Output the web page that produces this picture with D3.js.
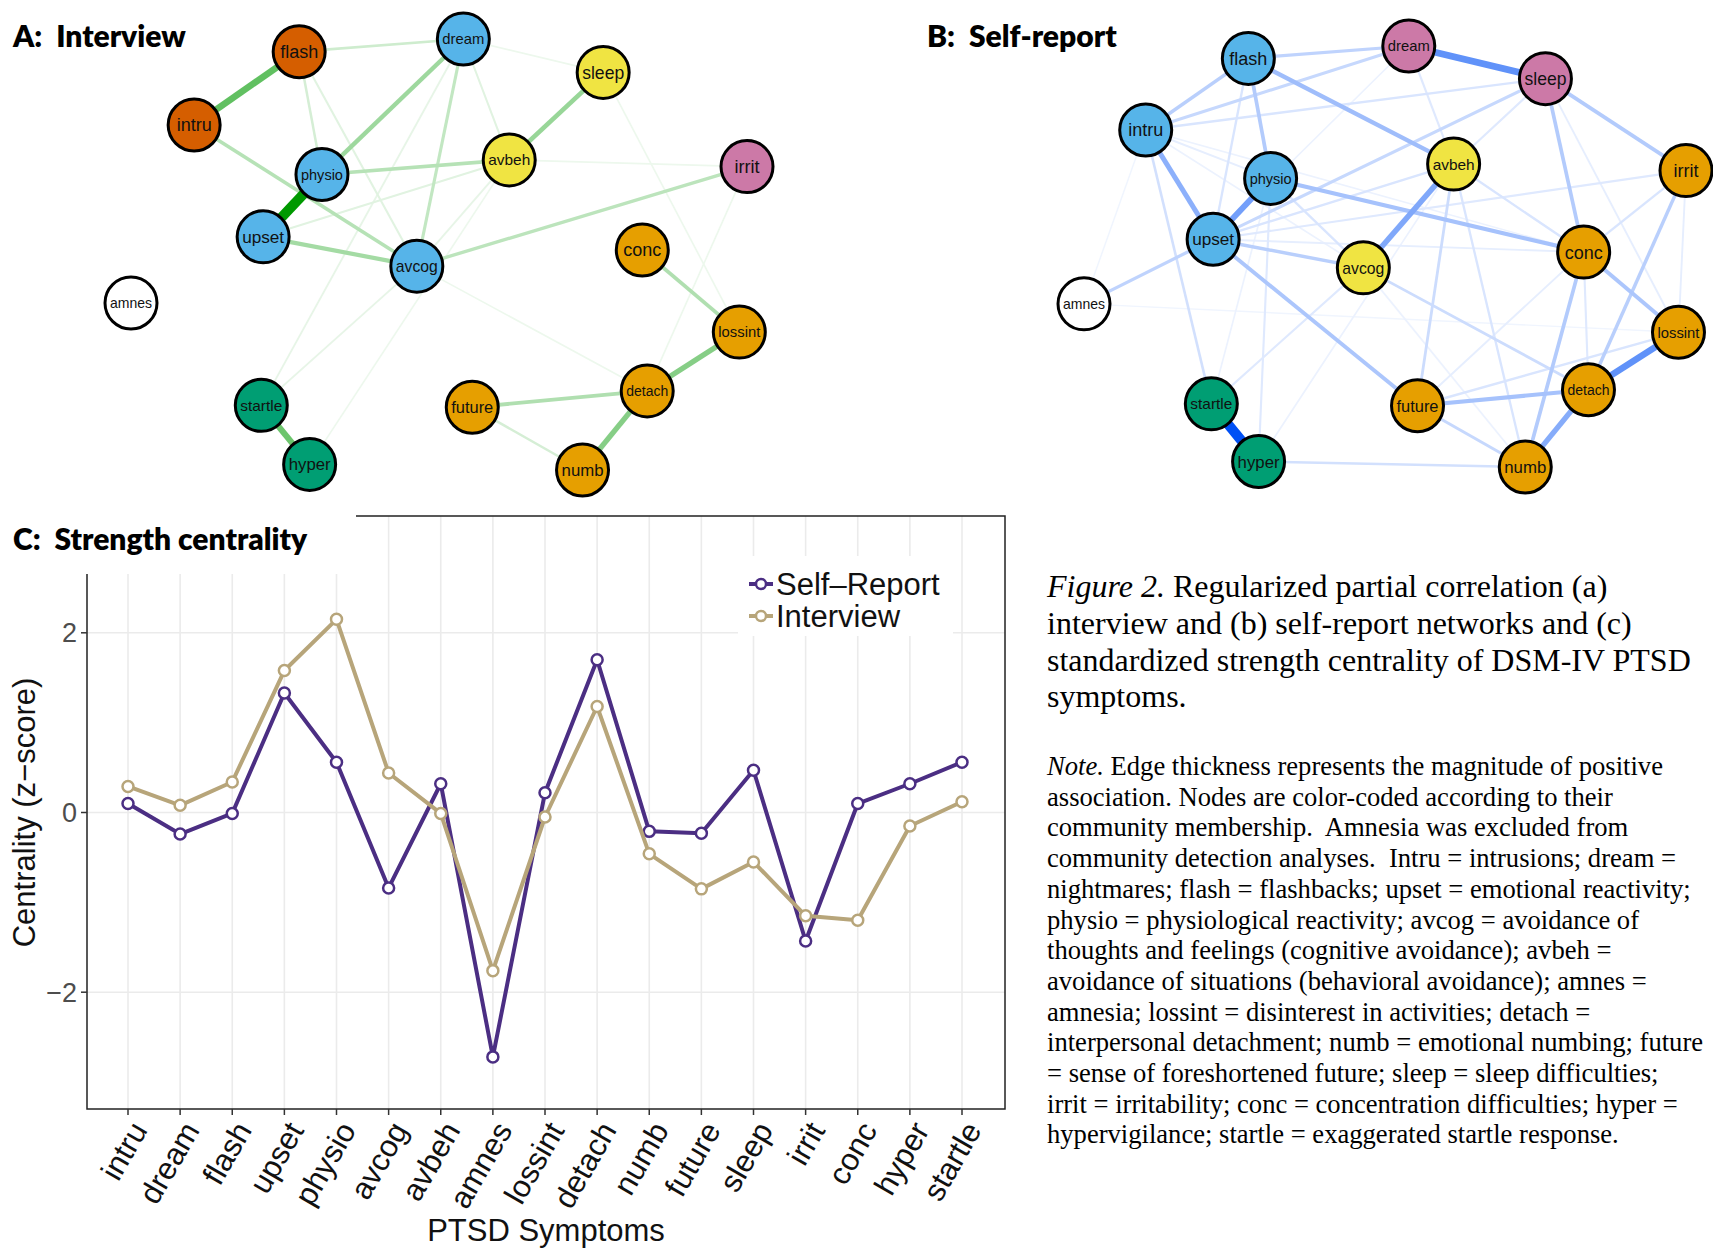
<!DOCTYPE html>
<html>
<head>
<meta charset="utf-8">
<script src="https://cdn.jsdelivr.net/npm/d3@7"></script>
<style>
  body { margin: 0; background: #fff; }
  svg { display: block; }
</style>
</head>
<body>
<svg id="fig" width="1713" height="1250"></svg>
<script>
// ---- data ----
const symptoms = ["intru", "dream", "flash", "upset", "physio", "avcog", "avbeh", "amnes", "lossint",
                  "detach", "numb", "future", "sleep", "irrit", "conc", "hyper", "startle"];

// strength centrality (z-score)
const selfReport = [0.10, -0.24, -0.01, 1.33, 0.56, -0.84, 0.32, -2.72, 0.22,
                    1.70, -0.21, -0.23, 0.47, -1.43, 0.10, 0.32, 0.56];
const interview  = [0.29, 0.08, 0.34, 1.58, 2.15, 0.44, -0.01, -1.76, -0.05,
                    1.18, -0.46, -0.85, -0.55, -1.15, -1.20, -0.15, 0.12];
const yTicks = [-2, 0, 2];

// shared (averaged) network layout, same order as symptoms
const layoutX = [-0.795, 0.079, -0.454, -0.571, -0.380, -0.072, 0.228, -1.000, 0.975,
                 0.676, 0.466, 0.108, 0.533, 1.000, 0.660, -0.420, -0.577];
const layoutY = [0.601, 1.000, 0.941, 0.082, 0.371, -0.054, 0.439, -0.225, -0.360,
                 -0.633, -1.000, -0.709, 0.845, 0.408, 0.021, -0.974, -0.700];

// community membership (0 = excluded)
const commInterview = [1, 2, 1, 2, 2, 2, 3, 0, 5, 5, 5, 5, 3, 4, 5, 6, 6];
const commSelf      = [2, 4, 2, 2, 2, 3, 3, 0, 5, 5, 5, 5, 4, 5, 5, 6, 6];

// estimated partial correlations (edges)
const edgesInterview = [
  ["physio", "upset", 0.42], ["intru", "flash", 0.26], ["startle", "hyper", 0.24],
  ["detach", "lossint", 0.20], ["detach", "numb", 0.20], ["sleep", "avbeh", 0.17],
  ["dream", "physio", 0.16], ["upset", "avcog", 0.15], ["conc", "lossint", 0.13],
  ["future", "detach", 0.13], ["intru", "avcog", 0.12], ["physio", "avbeh", 0.12],
  ["avcog", "irrit", 0.11], ["dream", "avcog", 0.10], ["flash", "dream", 0.08],
  ["flash", "physio", 0.07], ["future", "numb", 0.07], ["flash", "avcog", 0.05],
  ["dream", "avbeh", 0.05], ["upset", "avbeh", 0.05], ["avbeh", "avcog", 0.04],
  ["dream", "startle", 0.04], ["avcog", "startle", 0.04], ["hyper", "avbeh", 0.03],
  ["avcog", "detach", 0.03], ["sleep", "lossint", 0.03], ["irrit", "detach", 0.03],
  ["dream", "sleep", 0.03], ["avbeh", "irrit", 0.03]
];
const edgesSelf = [
  ["startle", "hyper", 0.40], ["dream", "sleep", 0.25], ["lossint", "detach", 0.25],
  ["physio", "upset", 0.22], ["avbeh", "avcog", 0.20], ["detach", "numb", 0.19],
  ["intru", "upset", 0.18], ["flash", "avbeh", 0.15], ["physio", "conc", 0.14],
  ["future", "detach", 0.14], ["upset", "future", 0.13], ["conc", "lossint", 0.13],
  ["conc", "numb", 0.12], ["sleep", "conc", 0.12], ["sleep", "irrit", 0.12],
  ["flash", "physio", 0.12], ["flash", "intru", 0.11], ["irrit", "detach", 0.11],
  ["upset", "avcog", 0.11], ["upset", "amnes", 0.10], ["flash", "dream", 0.10],
  ["intru", "dream", 0.09], ["upset", "sleep", 0.09], ["future", "numb", 0.09],
  ["avcog", "detach", 0.08], ["avbeh", "future", 0.08], ["intru", "startle", 0.07],
  ["hyper", "numb", 0.07], ["avbeh", "conc", 0.06], ["irrit", "conc", 0.06],
  ["avbeh", "numb", 0.06], ["lossint", "future", 0.06], ["intru", "sleep", 0.06],
  ["flash", "upset", 0.06], ["upset", "avbeh", 0.06], ["physio", "avcog", 0.06],
  ["upset", "irrit", 0.05], ["hyper", "physio", 0.05], ["startle", "avcog", 0.05],
  ["conc", "detach", 0.05], ["dream", "avbeh", 0.05], ["sleep", "avbeh", 0.05],
  ["irrit", "lossint", 0.04], ["sleep", "lossint", 0.04], ["conc", "future", 0.04],
  ["intru", "physio", 0.04], ["upset", "conc", 0.04], ["intru", "avcog", 0.03],
  ["intru", "conc", 0.03], ["dream", "upset", 0.03], ["startle", "physio", 0.03],
  ["hyper", "avbeh", 0.03], ["avcog", "numb", 0.03], ["amnes", "lossint", 0.02],
  ["amnes", "intru", 0.02]
];

const svg = d3.select("#fig");

const commColor = d3.scaleOrdinal()
  .domain([0, 1, 2, 3, 4, 5, 6])
  .range(["#FFFFFF", "#D55E00", "#56B4E9", "#F0E442", "#CC79A7", "#E69F00", "#009E73"]);

// ---- network panels ----
function network(edges, comm, xRange, yRange, posCol) {
  const x = d3.scaleLinear().domain([-1, 1]).range(xRange);
  const y = d3.scaleLinear().domain([1, -1]).range(yRange);
  const nodes = symptoms.map((s, i) => ({ name: s, x: x(layoutX[i]), y: y(layoutY[i]), c: comm[i] }));
  const byName = new Map(nodes.map(n => [n.name, n]));
  const maxW = d3.max(edges, e => e[2]);
  const t = d3.scaleLinear().domain([0, maxW]).range([0, 1]);
  const col = d3.interpolateRgb("#ffffff", posCol);

  const g = svg.append("g");
  g.selectAll("line.edge")
    .data(edges.slice().sort((a, b) => a[2] - b[2]))
    .join("line")
    .attr("class", "edge")
    .attr("x1", d => byName.get(d[0]).x)
    .attr("y1", d => byName.get(d[0]).y)
    .attr("x2", d => byName.get(d[1]).x)
    .attr("y2", d => byName.get(d[1]).y)
    .attr("stroke", d => col(Math.max(0.06, t(d[2]))))
    .attr("stroke-width", d => 1 + 9 * t(d[2]));

  const node = g.selectAll("g.node")
    .data(nodes)
    .join("g")
    .attr("class", "node")
    .attr("transform", d => `translate(${d.x},${d.y})`);

  node.append("circle")
    .attr("r", 26)
    .attr("fill", d => commColor(d.c))
    .attr("stroke", "#000")
    .attr("stroke-width", 3);

  // labels shrink to fit the node, as qgraph does
  node.append("text")
    .attr("text-anchor", "middle")
    .attr("dy", "0.36em")
    .attr("font-family", "Liberation Sans, Arial, sans-serif")
    .attr("font-size", 18)
    .attr("fill", "#111")
    .text(d => d.name)
    .each(function () {
      const len = this.getComputedTextLength();
      if (len > 42) d3.select(this).attr("font-size", 18 * 42 / len);
    });
}

network(edgesInterview, commInterview, [131, 747], [39, 470], "#009900");
network(edgesSelf, commSelf, [1084, 1686], [46, 467], "#0050F5");

// ---- panel C: strength centrality ----
const pLeft = 87, pRight = 1005, pTop = 516, pBottom = 1109;
const x = d3.scalePoint().domain(symptoms).range([128, 962]);
const y = d3.scaleLinear().domain([-3.3, 3.3]).range([pBottom, pTop]);

const pc = svg.append("g");

pc.selectAll("line.vgrid")
  .data(symptoms)
  .join("line")
  .attr("x1", d => x(d)).attr("x2", d => x(d))
  .attr("y1", pTop).attr("y2", pBottom)
  .attr("stroke", "#EBEBEB").attr("stroke-width", 1.6);

pc.selectAll("line.hgrid")
  .data(yTicks)
  .join("line")
  .attr("x1", pLeft).attr("x2", pRight)
  .attr("y1", d => y(d)).attr("y2", d => y(d))
  .attr("stroke", "#EBEBEB").attr("stroke-width", 1.6);

pc.append("rect")
  .attr("x", pLeft).attr("y", pTop)
  .attr("width", pRight - pLeft).attr("height", pBottom - pTop)
  .attr("fill", "none").attr("stroke", "#222").attr("stroke-width", 1.5);

// y axis
const yAxis = pc.append("g");
yAxis.selectAll("line")
  .data(yTicks).join("line")
  .attr("x1", pLeft - 6).attr("x2", pLeft)
  .attr("y1", d => y(d)).attr("y2", d => y(d))
  .attr("stroke", "#333").attr("stroke-width", 1.5);
yAxis.selectAll("text")
  .data(yTicks).join("text")
  .attr("x", pLeft - 10).attr("y", d => y(d))
  .attr("dy", "0.35em")
  .attr("text-anchor", "end")
  .attr("font-family", "Liberation Sans, Arial, sans-serif")
  .attr("font-size", 27)
  .attr("fill", "#4D4D4D")
  .text(d => d < 0 ? "\u2212" + Math.abs(d) : d);

// x axis
const xAxis = pc.append("g");
xAxis.selectAll("line")
  .data(symptoms).join("line")
  .attr("x1", d => x(d)).attr("x2", d => x(d))
  .attr("y1", pBottom).attr("y2", pBottom + 6)
  .attr("stroke", "#333").attr("stroke-width", 1.5);
xAxis.selectAll("text")
  .data(symptoms).join("text")
  .attr("transform", d => `translate(${x(d) + 1},${pBottom + 10}) rotate(-60)`)
  .attr("dy", "0.72em")
  .attr("text-anchor", "end")
  .attr("font-family", "Liberation Sans, Arial, sans-serif")
  .attr("font-size", 31)
  .attr("fill", "#111")
  .text(d => d);

// axis titles
pc.append("text")
  .attr("x", (pLeft + pRight) / 2).attr("y", 1241)
  .attr("text-anchor", "middle")
  .attr("font-family", "Liberation Sans, Arial, sans-serif")
  .attr("font-size", 31).attr("fill", "#111")
  .text("PTSD Symptoms");
pc.append("text")
  .attr("transform", `translate(35,${(pTop + pBottom) / 2}) rotate(-90)`)
  .attr("text-anchor", "middle")
  .attr("font-family", "Liberation Sans, Arial, sans-serif")
  .attr("font-size", 31).attr("fill", "#111")
  .text("Centrality (z\u2212score)");

// series
const series = [
  { name: "Self\u2013Report", values: selfReport, color: "#4B2E83" },
  { name: "Interview", values: interview, color: "#B7A57A" }
];
const line = d3.line().x(d => x(d.s)).y(d => y(d.v));
series.forEach(sr => {
  const pts = symptoms.map((s, i) => ({ s: s, v: sr.values[i] }));
  pc.append("path")
    .datum(pts)
    .attr("d", line)
    .attr("fill", "none")
    .attr("stroke", sr.color)
    .attr("stroke-width", 4)
    .attr("stroke-linejoin", "round");
  pc.selectAll(null)
    .data(pts).join("circle")
    .attr("cx", d => x(d.s)).attr("cy", d => y(d.v))
    .attr("r", 5.5)
    .attr("fill", "#fff")
    .attr("stroke", sr.color)
    .attr("stroke-width", 2.5);
});

// legend
const lg = pc.append("g");
lg.append("rect")
  .attr("x", 738).attr("y", 556).attr("width", 215).attr("height", 80)
  .attr("fill", "#fff");
const li = lg.selectAll("g.item")
  .data(series).join("g")
  .attr("transform", (d, i) => `translate(749,${584 + i * 32})`);
li.append("line")
  .attr("x1", 0).attr("x2", 24)
  .attr("stroke", d => d.color).attr("stroke-width", 4);
li.append("circle")
  .attr("cx", 12).attr("r", 5)
  .attr("fill", "#fff").attr("stroke", d => d.color).attr("stroke-width", 2.5);
li.append("text")
  .attr("x", 27).attr("dy", "0.36em")
  .attr("font-family", "Liberation Sans, Arial, sans-serif")
  .attr("font-size", 31).attr("fill", "#111")
  .text(d => d.name);

// white box behind the C title hides the top-left of the panel
svg.append("rect")
  .attr("x", 0).attr("y", 500).attr("width", 356).attr("height", 74)
  .attr("fill", "#fff");

// ---- panel titles ----
const titles = [
  { t: "A:  Interview", x: 13, y: 47 },
  { t: "B:  Self-report", x: 927, y: 47 },
  { t: "C:  Strength centrality", x: 13, y: 550 }
];
svg.selectAll("text.ptitle")
  .data(titles).join("text")
  .attr("class", "ptitle")
  .attr("x", d => d.x).attr("y", d => d.y)
  .attr("font-family", "Lato, Open Sans, sans-serif")
  .attr("font-weight", 800)
  .attr("font-size", 30)
  .attr("fill", "#000")
  .style("white-space", "pre")
  .text(d => d.t);

// ---- caption ----
const captionLines = [
  ["Figure 2.", " Regularized partial correlation (a)"],
  ["", "interview and (b) self-report networks and (c)"],
  ["", "standardized strength centrality of DSM-IV PTSD"],
  ["", "symptoms."]
];
const noteLines = [
  ["Note.", " Edge thickness represents the magnitude of positive"],
  ["", "association. Nodes are color-coded according to their"],
  ["", "community membership.\u00a0 Amnesia was excluded from"],
  ["", "community detection analyses.\u00a0 Intru = intrusions; dream ="],
  ["", "nightmares; flash = flashbacks; upset = emotional reactivity;"],
  ["", "physio = physiological reactivity; avcog = avoidance of"],
  ["", "thoughts and feelings (cognitive avoidance); avbeh ="],
  ["", "avoidance of situations (behavioral avoidance); amnes ="],
  ["", "amnesia; lossint = disinterest in activities; detach ="],
  ["", "interpersonal detachment; numb = emotional numbing; future"],
  ["", "= sense of foreshortened future; sleep = sleep difficulties;"],
  ["", "irrit = irritability; conc = concentration difficulties; hyper ="],
  ["", "hypervigilance; startle = exaggerated startle response."]
];

function textBlock(lines, x0, y0, lh, size) {
  const t = svg.append("text")
    .attr("font-family", "Liberation Serif, Times New Roman, serif")
    .attr("font-size", size)
    .attr("fill", "#000")
    .style("white-space", "pre");
  lines.forEach((l, i) => {
    const row = t.append("tspan").attr("x", x0).attr("y", y0 + i * lh);
    if (l[0]) row.append("tspan").attr("font-style", "italic").text(l[0]);
    row.append("tspan").text(l[1]);
  });
}
textBlock(captionLines, 1047, 597, 36.8, 32);
textBlock(noteLines, 1047, 775, 30.7, 26.6);
</script>
</body>
</html>
